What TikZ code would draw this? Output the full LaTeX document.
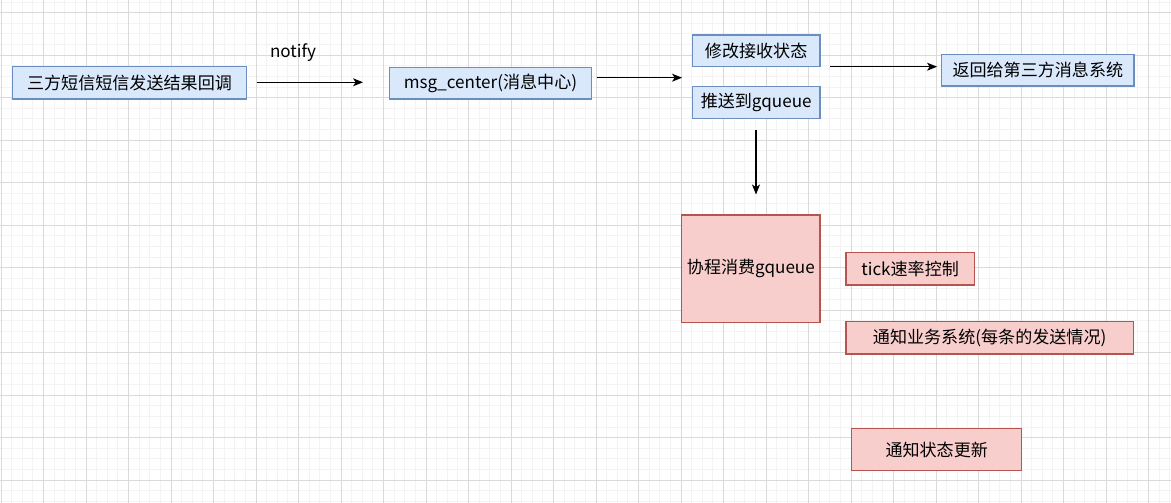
\documentclass[tikz,border=0pt]{standalone}
\usepackage{fontspec}
\setmainfont{Noto Sans CJK SC}
\usetikzlibrary{arrows.meta}
\definecolor{bluefill}{HTML}{DAE8FC}
\definecolor{blueline}{HTML}{6C8EBF}
\definecolor{redfill}{HTML}{F8CECC}
\definecolor{redline}{HTML}{B85450}
\definecolor{gridminor}{HTML}{F3F3F3}
\definecolor{gridmajor}{HTML}{DADADA}
\tikzset{
  base/.style={inner sep=0pt, font=\fontsize{12.8}{15}\selectfont, text=black, line width=0.8pt},
  bluebox/.style={base, draw=blueline, fill=bluefill},
  redbox/.style={base, draw=redline, fill=redfill},
  plainlabel/.style={inner sep=0pt, font=\fontsize{12.8}{15}\selectfont, text=black},
  arrowline/.style={draw=black, line width=0.8pt, -{Stealth[length=7.5pt,width=6pt,inset=2pt]}},
}
\begin{document}
\begin{tikzpicture}[x=0.75pt,y=-0.75pt]
\useasboundingbox (0,0) rectangle (1171,503);
\fill[white] (0,0) rectangle (1171,503);
% grid
\foreach \i in {0,...,110} {
  \draw[gridminor, line width=0.75pt] ({1+\i*10.625},0) -- ({1+\i*10.625},503);
}
\foreach \i in {0,...,47} {
  \draw[gridminor, line width=0.75pt] (0,{2.075+\i*10.625}) -- (1171,{2.075+\i*10.625});
}
\foreach \i in {0,...,27} {
  \draw[gridmajor, line width=0.75pt] ({1+\i*42.5},0) -- ({1+\i*42.5},503);
}
\foreach \i in {0,...,11} {
  \draw[gridmajor, line width=0.75pt] (0,{12.7+\i*42.5}) -- (1171,{12.7+\i*42.5});
}
% nodes
\node[bluebox, minimum width=175.8pt, minimum height=24.2pt] (cb) at (129.5,82.85) {三方短信短信发送结果回调};
\node[bluebox, minimum width=151.8pt, minimum height=23.8pt] (mc) at (490.5,83.15) {msg\_center(消息中心)};
\node[bluebox, minimum width=95.8pt, minimum height=23.8pt] (xg) at (756.15,50.85) {修改接收状态};
\node[bluebox, minimum width=95.8pt, minimum height=23.7pt] (ts) at (756.15,102.5) {推送到gqueue};
\node[bluebox, minimum width=144.2pt, minimum height=23.8pt] (fh) at (1037.85,70.15) {返回给第三方消息系统};
\node[redbox, minimum width=103.7pt, minimum height=80.5pt] (xc) at (750.85,268.65) {协程消费gqueue};
\node[redbox, minimum width=96.2pt, minimum height=24.5pt] (tk) at (910.15,268.65) {tick速率控制};
\node[redbox, minimum width=215.5pt, minimum height=24.2pt] (tz) at (989.65,337.85) {通知业务系统(每条的发送情况)};
\node[redbox, minimum width=127.5pt, minimum height=31.8pt] (zt) at (936.7,449.5) {通知状态更新};
\node[plainlabel] (nt) at (293,53) {notify};
% connectors
\coordinate (a1s) at (257,82.3);
\coordinate (a1e) at (363,82.3);
\coordinate (a2s) at (596.7,77.7);
\coordinate (a2e) at (682,77.7);
\coordinate (a3s) at (830,66.7);
\coordinate (a3e) at (937,66.7);
\coordinate (a4s) at (756,130);
\coordinate (a4e) at (756,194.5);
\draw[arrowline] (a1s) -- (a1e);
\draw[arrowline] (a2s) -- (a2e);
\draw[arrowline] (a3s) -- (a3e);
\draw[arrowline] (a4s) -- (a4e);
\end{tikzpicture}
\end{document}
